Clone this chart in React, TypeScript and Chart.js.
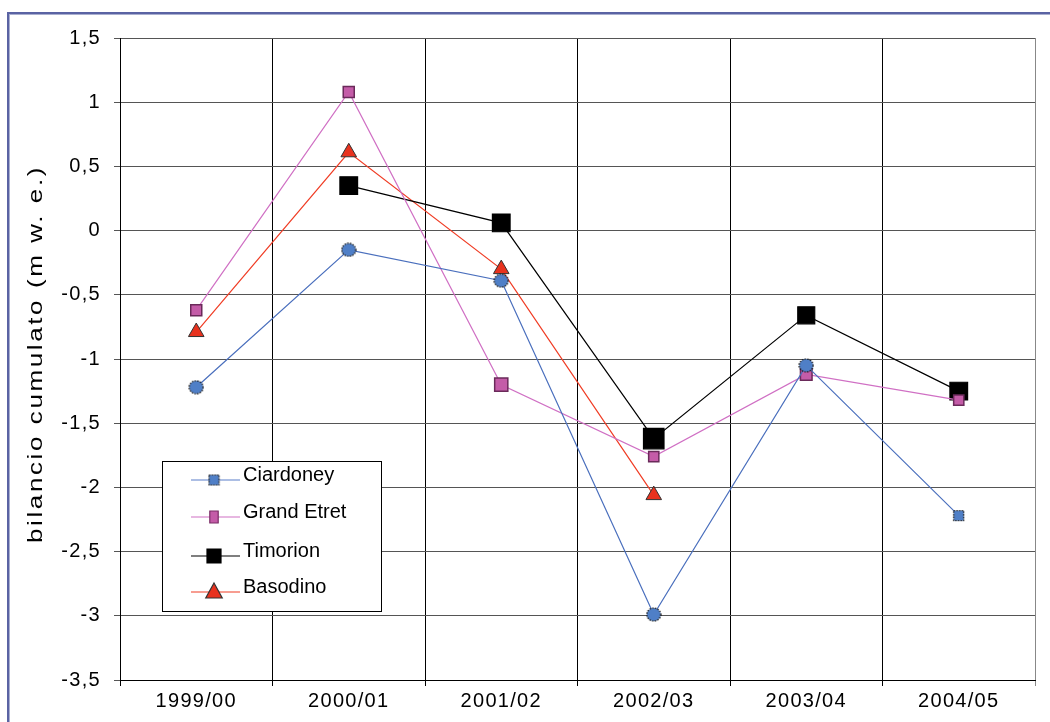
import { useEffect, useRef } from 'react';
import { Chart, registerables } from 'chart.js';

Chart.register(...registerables);

// Hydrological years on the x axis
const seasons = ['1999/00', '2000/01', '2001/02', '2002/03', '2003/04', '2004/05'];

// Cumulative mass balance per glacier (m w.e.)
const ciardoney = [-1.22, -0.15, -0.39, -2.99, -1.05, -2.22];
const grandEtret = [-0.62, 1.08, -1.2, -1.76, -1.12, -1.32];
const timorion = [null, 0.35, 0.06, -1.62, -0.66, -1.25];
const basodino = [-0.79, 0.61, -0.3, -2.06, null, null];

// Value axis range and labels
const yMin = -3.5;
const yMax = 1.5;
const yStep = 0.5;
const yTitle = 'bilancio cumulato (m w. e.)';

const FONT = "Arial, 'Liberation Sans', sans-serif";

// Marker sizes (radius) per point
const grandEtretRadius = [7.8, 7.8, 9.3, 7.2, 8.2, 7.2];
const timorionRadius = [12.5, 12.5, 12.5, 14.5, 12, 12.5];

// Small bitmap markers with a dotted outline
function dottedMarker(shape: 'circle' | 'rect', w: number, h: number, fill: string) {
  const c = document.createElement('canvas');
  c.width = w + 2;
  c.height = h + 2;
  const ctx = c.getContext('2d')!;
  ctx.fillStyle = fill;
  ctx.beginPath();
  if (shape === 'circle') {
    ctx.ellipse(c.width / 2, c.height / 2, w / 2, h / 2, 0, 0, Math.PI * 2);
  } else {
    ctx.rect(1.5, 1.5, w - 1, h - 1);
  }
  ctx.fill();
  ctx.strokeStyle = '#111';
  ctx.lineWidth = 1.2;
  ctx.setLineDash([1.5, 1.2]);
  ctx.stroke();
  return c;
}

function drawMarker(
  ctx: CanvasRenderingContext2D,
  kind: 'rect' | 'tallRect' | 'triangle',
  x: number,
  y: number,
  size: number,
  fill: string,
  stroke: string
) {
  ctx.save();
  ctx.fillStyle = fill;
  ctx.strokeStyle = stroke;
  ctx.lineWidth = 1.2;
  ctx.beginPath();
  if (kind === 'rect') {
    ctx.rect(x - size / 2, y - size / 2, size, size);
  } else if (kind === 'tallRect') {
    ctx.rect(x - size * 0.35, y - size / 2, size * 0.7, size);
  } else {
    ctx.moveTo(x, y - size * 0.6);
    ctx.lineTo(x + size * 0.55, y + size * 0.4);
    ctx.lineTo(x - size * 0.55, y + size * 0.4);
    ctx.closePath();
  }
  ctx.fill();
  ctx.stroke();
  ctx.restore();
}

const spacingPlugin = {
  id: 'letterSpacing',
  beforeLayout(chart: any) {
    chart.ctx.letterSpacing = '1.3px';
  },
  beforeDraw(chart: any) {
    chart.ctx.letterSpacing = '1.3px';
  },
};

const framePlugin = {
  id: 'frame',
  beforeDraw(chart: any) {
    const ctx = chart.ctx as CanvasRenderingContext2D;
    ctx.save();
    ctx.fillStyle = '#fff';
    ctx.fillRect(0, 0, chart.width, chart.height);
    ctx.fillStyle = '#5a63a3';
    ctx.fillRect(7, 12, chart.width - 7, 2);
    ctx.fillRect(7, 12, 2, chart.height - 12);
    ctx.fillStyle = '#a9afd0';
    ctx.fillRect(9, 14, chart.width - 9, 1);
    ctx.fillRect(9, 14, 1, chart.height - 14);
    ctx.restore();
  },
};

const titlePlugin = {
  id: 'yTitle',
  afterDraw(chart: any) {
    const ctx = chart.ctx as CanvasRenderingContext2D;
    const area = chart.chartArea;
    ctx.save();
    ctx.translate(area.left - 78, 354);
    ctx.rotate(-Math.PI / 2);
    ctx.scale(1.3, 1);
    (ctx as any).letterSpacing = '2px';
    ctx.font = `20px ${FONT}`;
    ctx.fillStyle = '#000';
    ctx.textAlign = 'center';
    ctx.textBaseline = 'alphabetic';
    ctx.fillText(yTitle, 0, 0);
    ctx.restore();
  },
};

export default function App() {
  const canvasRef = useRef<HTMLCanvasElement | null>(null);

  useEffect(() => {
    const canvas = canvasRef.current;
    if (!canvas) return;
    const last = seasons.length - 1;
    const blueDot = dottedMarker('circle', 14, 13, '#4f7fc7');
    const blueSquare = dottedMarker('rect', 11, 11, '#4f7fc7');

    const legendItems = [
      { label: 'Ciardoney', line: '#5b7fc9', draw: (ctx: CanvasRenderingContext2D, x: number, y: number) => ctx.drawImage(blueSquare, x - 6.5, y - 6.5) },
      { label: 'Grand Etret', line: '#d070c4', draw: (ctx: CanvasRenderingContext2D, x: number, y: number) => drawMarker(ctx, 'tallRect', x, y, 12, '#c45ca8', '#7a2d66') },
      { label: 'Timorion', line: '#000', draw: (ctx: CanvasRenderingContext2D, x: number, y: number) => drawMarker(ctx, 'rect', x, y, 14, '#000', '#000') },
      { label: 'Basodino', line: '#f03c24', draw: (ctx: CanvasRenderingContext2D, x: number, y: number) => drawMarker(ctx, 'triangle', x, y, 15, '#e8321e', '#333') },
    ];

    const legendPlugin = {
      id: 'boxLegend',
      afterDraw(chart: any) {
        const ctx = chart.ctx as CanvasRenderingContext2D;
        const area = chart.chartArea;
        const bx = area.left + 42;
        const by = area.top + 423;
        const bw = 219;
        const bh = 150;
        ctx.save();
        (ctx as any).letterSpacing = '0px';
        ctx.fillStyle = '#fff';
        ctx.fillRect(bx, by, bw, bh);
        ctx.strokeStyle = '#000';
        ctx.lineWidth = 1;
        ctx.strokeRect(bx + 0.5, by + 0.5, bw, bh);
        const rows = [19, 56, 95, 131];
        legendItems.forEach((it, i) => {
          const y = by + rows[i];
          ctx.strokeStyle = it.line;
          ctx.lineWidth = 1.2;
          ctx.beginPath();
          ctx.moveTo(bx + 29, y);
          ctx.lineTo(bx + 78, y);
          ctx.stroke();
          it.draw(ctx, bx + 52, y);
          ctx.fillStyle = '#000';
          ctx.font = `20px ${FONT}`;
          ctx.textAlign = 'left';
          ctx.textBaseline = 'middle';
          ctx.fillText(it.label, bx + 81, y - 5);
        });
        ctx.restore();
      },
    };

    const chart = new Chart(canvas, {
      type: 'line',
      data: {
        labels: seasons,
        datasets: [
          {
            label: 'Ciardoney',
            data: ciardoney,
            borderColor: '#4a6fbd',
            borderWidth: 1.2,
            pointStyle: (c: any) => (c.dataIndex === last ? blueSquare : blueDot),
            pointRadius: 7,
          },
          {
            label: 'Grand Etret',
            data: grandEtret,
            borderColor: '#d070c4',
            borderWidth: 1.2,
            pointBackgroundColor: '#c45ca8',
            pointBorderColor: '#6a2a5a',
            pointBorderWidth: 1.5,
            pointStyle: 'rect',
            pointRadius: (c: any) => grandEtretRadius[c.dataIndex] ?? 7.5,
          },
          {
            label: 'Timorion',
            data: timorion,
            borderColor: '#000',
            borderWidth: 1.2,
            pointBackgroundColor: '#000',
            pointBorderColor: '#000',
            pointStyle: 'rect',
            pointRadius: (c: any) => timorionRadius[c.dataIndex] ?? 12.5,
          },
          {
            label: 'Basodino',
            data: basodino,
            borderColor: '#f03c24',
            borderWidth: 1.2,
            pointBackgroundColor: '#e8321e',
            pointBorderColor: '#333',
            pointBorderWidth: 1,
            pointStyle: 'triangle',
            pointRadius: 9,
          },
        ],
      },
      options: {
        responsive: false,
        animation: false,
        events: [],
        layout: { padding: { left: 0, top: 38, right: 15, bottom: 0 } },
        plugins: {
          legend: { display: false },
          tooltip: { enabled: false },
        },
        elements: { line: { tension: 0 } },
        scales: {
          x: {
            type: 'category',
            offset: true,
            grid: {
              offset: true,
              color: (c: any) => (c.type === 'tick' ? '#000' : '#888'),
              lineWidth: 1,
              tickLength: 6,
              drawTicks: true,
            },
            border: { color: '#000', width: 1 },
            ticks: { color: '#000', font: { family: FONT, size: 20 }, padding: 3, maxRotation: 0 },
            afterFit(scale: any) {
              scale.height = 42;
            },
          },
          y: {
            min: yMin,
            max: yMax,
            grid: { color: '#555', lineWidth: 1, tickLength: 6 },
            border: { color: '#000', width: 1 },
            ticks: {
              stepSize: yStep,
              color: '#000',
              font: { family: FONT, size: 20 },
              padding: 13,
              callback: (v: any) => String(Math.round(Number(v) * 10) / 10).replace('.', ','),
            },
            afterFit(scale: any) {
              scale.width = 120;
            },
          },
        },
      },
      plugins: [spacingPlugin, framePlugin, titlePlugin, legendPlugin],
    } as any);
    return () => chart.destroy();
  }, []);

  return (
    <div style={{ position: 'absolute', left: 0, top: 0, width: 1050, height: 722, background: '#fff' }}>
      <canvas ref={canvasRef} width={1050} height={722} style={{ display: 'block' }} />
    </div>
  );
}
